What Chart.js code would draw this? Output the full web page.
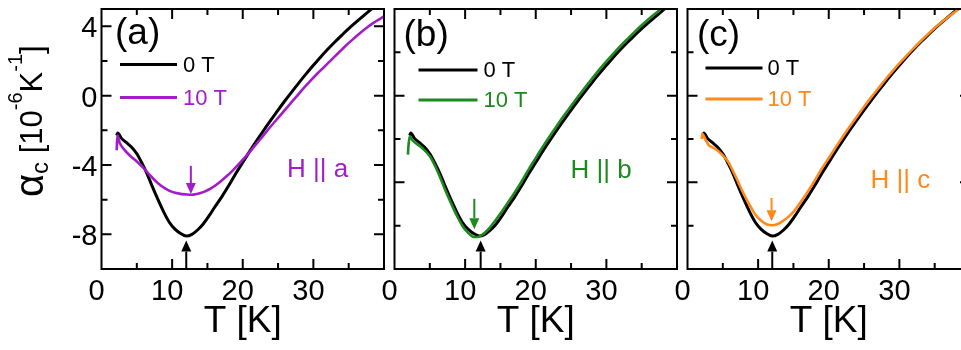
<!DOCTYPE html>
<html>
<head>
<meta charset="utf-8">
<script src="https://cdn.jsdelivr.net/npm/chart.js@4"></script>
<style>
  html, body { margin: 0; padding: 0; background: #fff; overflow: hidden; }
  #wrap { position: relative; width: 961px; height: 350px; overflow: hidden; }
  #wrap canvas { position: absolute; top: 0; }
</style>
</head>
<body>
<div id="wrap">
  <canvas id="panelA" width="400" height="350" style="left:0px"></canvas>
  <canvas id="panelB" width="400" height="350" style="left:293px"></canvas>
  <canvas id="panelC" width="400" height="350" style="left:586px"></canvas>
</div>
<script>
// zero field curve (same in every panel)
const tZero = [2.15, 2.3, 2.8, 3.5, 4.2, 5.0, 5.8, 6.5, 7.2, 8.0, 8.8, 9.6, 10.4, 11.2, 12.0, 12.8, 13.6, 14.4, 15.2, 16.0,
  17, 18, 19, 20, 21, 22, 23, 24, 25, 26, 27, 28, 29, 30, 31, 32, 33, 34, 35, 36, 37, 38, 39, 40];
const aZero = [-2.3, -2.15, -2.45, -2.7, -2.95, -3.35, -3.95, -4.55, -5.25, -6.0, -6.7, -7.3, -7.7, -7.95, -8.1, -8.0, -7.75, -7.4, -6.95, -6.45,
  -5.85, -5.2, -4.5, -3.85, -3.2, -2.58, -1.98, -1.4, -0.83, -0.28, 0.25, 0.77, 1.27, 1.75, 2.22, 2.66, 3.08, 3.48, 3.87, 4.23, 4.58, 4.92, 5.25, 5.55];

// 10 T, H || a
const tHa = [2.15, 2.25, 2.6, 3.2, 4.0, 5.0, 6.0, 7.0, 8.0, 9.0, 10.0, 11.0, 12.0, 12.7,
  13.5, 14.5, 15.5, 16.5, 17.5, 18.5, 19.5, 20.5, 21.5, 22.5, 23.5, 24.5, 25.5, 26.5, 27.5, 28.5, 29.5, 30.5, 31.5, 32.5, 33.5, 34.5, 35.5, 36.5, 37.5, 38.5, 39.5, 40];
const aHa = [-3.15, -2.3, -2.75, -3.1, -3.45, -3.8, -4.2, -4.65, -5.05, -5.35, -5.55, -5.65, -5.7, -5.72,
  -5.67, -5.55, -5.35, -5.07, -4.72, -4.35, -3.92, -3.48, -3.0, -2.5, -2.0, -1.52, -1.05, -0.57, -0.1, 0.38, 0.82, 1.25, 1.65, 2.05, 2.45, 2.85, 3.22, 3.57, 3.9, 4.2, 4.45, 4.57];

// 10 T, H || b
const tHb = [1.9, 2.0, 2.15, 2.6, 3.2, 4.0, 5.0, 5.8, 6.5, 7.2, 8.0, 8.8, 9.6, 10.4, 11.2, 11.8, 12.5, 13.3, 14.2, 15.0,
  16, 17, 18, 19, 20, 21, 22, 23, 24, 25, 26, 27, 28, 29, 30, 31, 32, 33, 34, 35, 36, 37, 38, 39, 40];
const aHb = [-3.4, -2.8, -2.35, -2.6, -2.8, -3.05, -3.5, -4.1, -4.75, -5.45, -6.2, -6.9, -7.5, -7.9, -8.15, -8.15, -8.0, -7.7, -7.25, -6.8,
  -6.2, -5.6, -4.95, -4.25, -3.6, -2.95, -2.33, -1.73, -1.15, -0.6, -0.05, 0.48, 1.0, 1.5, 1.98, 2.43, 2.87, 3.28, 3.68, 4.06, 4.42, 4.76, 5.1, 5.4, 5.7];

// 10 T, H || c
const tHc = [2.0, 2.1, 2.5, 3.0, 3.6, 4.2, 5.0, 5.8, 6.5, 7.2, 8.0, 8.8, 9.6, 10.4, 11.2, 12.0, 12.8, 13.6, 14.4, 15.2, 16.0,
  17, 18, 19, 20, 21, 22, 23, 24, 25, 26, 27, 28, 29, 30, 31, 32, 33, 34, 35, 36, 37, 38, 39, 40];
const aHc = [-2.5, -2.2, -2.5, -2.85, -3.0, -3.15, -3.45, -3.85, -4.4, -5.0, -5.7, -6.3, -6.85, -7.2, -7.42, -7.48, -7.4, -7.2, -6.95, -6.6, -6.15,
  -5.55, -4.9, -4.22, -3.6, -2.97, -2.36, -1.77, -1.2, -0.64, -0.1, 0.41, 0.92, 1.4, 1.86, 2.3, 2.73, 3.14, 3.53, 3.9, 4.25, 4.57, 4.87, 5.15, 5.4];

// arrows at the minima: [T, from, to]
const arrowsA = [[12.65, -4.05, -5.68], [12.0, -10, -8.36]];
const arrowsB = [[11.3, -5.95, -7.7], [12.2, -10, -8.36]];
const arrowsC = [[11.9, -5.9, -7.25], [12.0, -10, -8.36]];

const xTickLabels = [0, 10, 20, 30];
const yTickLabels = [4, 0, -4, -8];
const fieldLabels = ['0 T', '10 T'];
const panelTags = ['(a)', '(b)', '(c)'];
const fieldDirs = ['H || a', 'H || b', 'H || c'];
const seriesColors = ['#a21ccb', '#1d8a1d', '#ff8a1a'];

const FONT = "'Liberation Sans', Arial, Helvetica, sans-serif";

function pts(xs, ys) {
  return xs.map((x, i) => ({ x: x, y: ys[i] }));
}

// frame, inward ticks, legend, labels and arrows
const decor = {
  id: 'decor',
  afterDatasetsDraw(chart, args, o) {
    const ctx = chart.ctx;
    const { left, right, top, bottom } = chart.chartArea;
    const xs = chart.scales.x, ys = chart.scales.y;
    ctx.save();
    ctx.strokeStyle = '#000';
    ctx.lineWidth = 2;

    // ticks
    const tick = (v, len, isX) => {
      ctx.beginPath();
      if (isX) {
        const p = xs.getPixelForValue(v);
        ctx.moveTo(p, bottom); ctx.lineTo(p, bottom - len);
        ctx.moveTo(p, top); ctx.lineTo(p, top + len);
      } else {
        const p = ys.getPixelForValue(v);
        ctx.moveTo(left, p); ctx.lineTo(left + len, p);
        ctx.moveTo(right, p); ctx.lineTo(right - len, p);
      }
      ctx.stroke();
    };
    [10, 20, 30].forEach(v => tick(v, 10, true));
    [5, 15, 25, 35].forEach(v => tick(v, 6, true));
    o.yMajor.forEach(v => tick(v, 10, false));
    o.yMinor.forEach(v => tick(v, 6, false));
    ctx.strokeRect(left, top, right - left, bottom - top);

    // arrows
    o.arrows.forEach((a, i) => {
      const col = i === 0 ? o.color : '#000';
      const x = xs.getPixelForValue(a[0]);
      const y1 = ys.getPixelForValue(a[1]);
      const y2 = ys.getPixelForValue(a[2]);
      const dir = y2 > y1 ? 1 : -1;
      const hl = 11, hw = 5;
      ctx.strokeStyle = col; ctx.fillStyle = col; ctx.lineWidth = 2;
      ctx.beginPath();
      ctx.moveTo(x, y1); ctx.lineTo(x, y2 - dir * hl);
      ctx.stroke();
      ctx.beginPath();
      ctx.moveTo(x, y2);
      ctx.lineTo(x - hw, y2 - dir * hl);
      ctx.lineTo(x + hw, y2 - dir * hl);
      ctx.closePath();
      ctx.fill();
    });

    // legend
    chart.data.datasets.forEach((ds, i) => {
      const y = top + o.legY[i];
      ctx.strokeStyle = ds.borderColor; ctx.lineWidth = 3;
      ctx.beginPath();
      ctx.moveTo(left + o.legX[0], y); ctx.lineTo(left + o.legX[1], y);
      ctx.stroke();
      ctx.fillStyle = ds.borderColor;
      ctx.font = '22px ' + FONT;
      ctx.textBaseline = 'middle';
      ctx.textAlign = 'left';
      ctx.fillText(ds.label, left + o.legX[2], y + 1);
    });

    // panel tag and field direction
    ctx.textBaseline = 'alphabetic';
    ctx.fillStyle = '#000';
    ctx.font = '37px ' + FONT;
    ctx.fillText(o.tag, left + o.tagPos[0], o.tagPos[1]);
    ctx.fillStyle = o.color;
    ctx.font = '26px ' + FONT;
    ctx.fillText(o.dir, left + o.dirPos[0], o.dirPos[1]);

    // y axis title (first panel only)
    if (o.yTitle) {
      ctx.translate(42, 197);
      ctx.rotate(-Math.PI / 2);
      ctx.fillStyle = '#000';
      let x = 0;
      const parts = [['\u03b1', 40, 1], ['c', 24, 6], [' [10', 31, 0], ['-6', 20, -20], ['K', 31, 0], ['-1', 20, -20], [']', 31, 0]];
      parts.forEach(p => {
        ctx.font = p[1] + 'px ' + FONT;
        ctx.fillText(p[0], x, p[2]);
        x += ctx.measureText(p[0]).width;
      });
    }
    ctx.restore();
  }
};

function makePanel(id, k, tField, aField, arrows) {
  const first = k === 0;
  return new Chart(document.getElementById(id), {
    type: 'line',
    data: {
      datasets: [
        { label: fieldLabels[0], data: pts(tZero, aZero), borderColor: '#000', borderWidth: 3, order: 1 },
        { label: fieldLabels[1], data: pts(tField, aField), borderColor: seriesColors[k], borderWidth: 2.6, order: 0 }
      ]
    },
    options: {
      responsive: false,
      devicePixelRatio: 1,
      animation: false,
      layout: { padding: { left: 0, top: 9, right: 16, bottom: 0 } },
      elements: {
        point: { radius: 0 },
        line: { cubicInterpolationMode: 'monotone' }
      },
      plugins: {
        legend: { display: false },
        tooltip: { enabled: false },
        decor: {
          color: seriesColors[k],
          arrows: arrows,
          tag: panelTags[k],
          dir: fieldDirs[k],
          yTitle: first,
          yMajor: first ? [4, 0, -4, -8] : [0, -5],
          yMinor: first ? [2, -2, -6] : [2.5, -2.5, -7.5],
          legX: [[18.5, 75.5, 81.5], [24, 83, 89], [18, 75, 80]][k],
          legY: [[55.5, 88.5], [61, 91], [59, 90]][k],
          tagPos: [[13.5, 44], [9, 46], [9.5, 46]][k],
          dirPos: [[185.5, 177], [176, 178], [183, 188]][k]
        }
      },
      scales: {
        x: {
          type: 'linear', min: 0, max: 40,
          afterBuildTicks: s => { s.ticks = xTickLabels.map(v => ({ value: v })); },
          afterFit: s => { s.height = 81; s.paddingLeft = 0; s.paddingRight = 0; },
          grid: { display: false, drawTicks: false },
          border: { display: false },
          ticks: { autoSkip: false, maxRotation: 0, padding: 6, labelOffset: -5, color: '#000', font: { family: FONT, size: 29 } },
          title: { display: true, text: 'T [K]', color: '#000', font: { family: FONT, size: 37, lineHeight: 1.2 }, padding: { top: 0, bottom: 5.6 } }
        },
        y: {
          type: 'linear', min: -10, max: 5,
          afterBuildTicks: s => { s.ticks = first ? yTickLabels.map(v => ({ value: v })) : []; },
          afterFit: s => { s.width = 101.5; s.paddingTop = 0; s.paddingBottom = 0; },
          grid: { display: false, drawTicks: false },
          border: { display: false },
          ticks: { display: first, padding: 4, labelOffset: 3, color: '#000', font: { family: FONT, size: 29 } }
        }
      }
    },
    plugins: [decor]
  });
}

makePanel('panelA', 0, tHa, aHa, arrowsA);
makePanel('panelB', 1, tHb, aHb, arrowsB);
makePanel('panelC', 2, tHc, aHc, arrowsC);
</script>
</body>
</html>
